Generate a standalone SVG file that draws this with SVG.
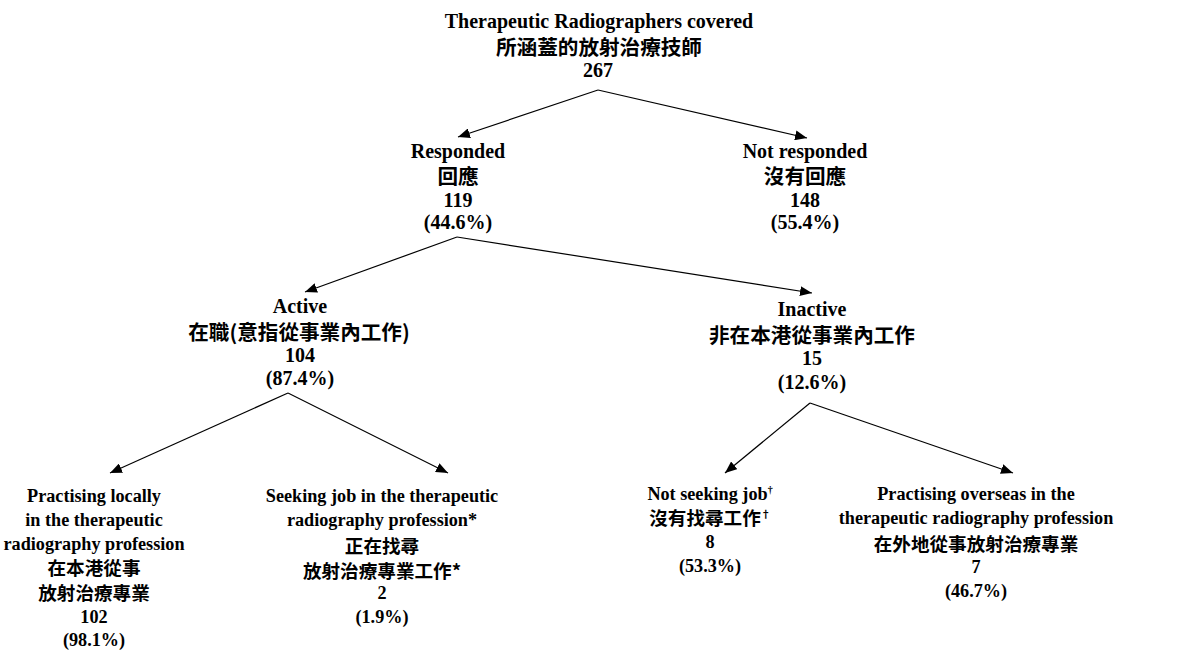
<svg xmlns="http://www.w3.org/2000/svg" width="1183" height="650" viewBox="0 0 1183 650">
<defs>
<style>
text{text-anchor:middle;fill:#000}
.en{font-family:"Liberation Serif","Times New Roman",serif;font-weight:bold;font-size:20px}
.zh{font-family:"Noto Sans CJK TC","Noto Sans CJK SC",sans-serif;font-size:20.6px;font-weight:700}
.en2{font-family:"Liberation Serif","Times New Roman",serif;font-weight:bold;font-size:18.2px}
.zh2{font-family:"Noto Sans CJK TC","Noto Sans CJK SC",sans-serif;font-size:18.6px;font-weight:700}
.sup{font-size:10px}
.conn line{stroke:#000;stroke-width:1.2;fill:none;marker-end:url(#arr)}
</style>
<marker id="arr" viewBox="0 0 12 10" refX="12" refY="5" markerWidth="12" markerHeight="10" markerUnits="userSpaceOnUse" orient="auto">
<path d="M0,0 L12,5 L0,10 z" fill="#000"/>
</marker>
</defs>
<rect width="1183" height="650" fill="#fff"/>
<g id="connectors" class="conn">
<line x1="598" y1="90" x2="458" y2="137"/>
<line x1="598" y1="90" x2="807" y2="138"/>
<line x1="457" y1="237" x2="305" y2="292"/>
<line x1="457" y1="237" x2="812" y2="293"/>
<line x1="288" y1="393" x2="110" y2="473"/>
<line x1="288" y1="393" x2="448" y2="473"/>
<line x1="810" y1="403" x2="725" y2="473"/>
<line x1="810" y1="403" x2="1013" y2="473"/>
</g>
<g id="node-total">
<text class="en" x="599" y="28">Therapeutic Radiographers covered</text>
<text class="zh" x="599" y="55">所涵蓋的放射治療技師</text>
<text class="en" x="598" y="77">267</text>
</g>
<g id="node-responded">
<text class="en" x="458" y="158">Responded</text>
<text class="zh" x="458" y="184">回應</text>
<text class="en" x="458" y="207">119</text>
<text class="en" x="458" y="229">(44.6%)</text>
</g>
<g id="node-not-responded">
<text class="en" x="805" y="158">Not responded</text>
<text class="zh" x="805" y="184">沒有回應</text>
<text class="en" x="805" y="207">148</text>
<text class="en" x="805" y="229">(55.4%)</text>
</g>
<g id="node-active">
<text class="en" x="300" y="313">Active</text>
<text class="zh" x="299" y="340">在職(意指從事業內工作)</text>
<text class="en" x="300" y="362">104</text>
<text class="en" x="300" y="385">(87.4%)</text>
</g>
<g id="node-inactive">
<text class="en" x="812" y="316">Inactive</text>
<text class="zh" x="812" y="343">非在本港從事業內工作</text>
<text class="en" x="812" y="365">15</text>
<text class="en" x="812" y="389">(12.6%)</text>
</g>
<g id="node-practising-locally">
<text class="en2" x="94" y="502">Practising locally</text>
<text class="en2" x="94" y="526">in the therapeutic</text>
<text class="en2" x="94" y="550">radiography profession</text>
<text class="zh2" x="94" y="575">在本港從事</text>
<text class="zh2" x="94" y="600">放射治療專業</text>
<text class="en2" x="94" y="623">102</text>
<text class="en2" x="94" y="646">(98.1%)</text>
</g>
<g id="node-seeking-job">
<text class="en2" x="382" y="502">Seeking job in the therapeutic</text>
<text class="en2" x="382" y="526">radiography profession*</text>
<text class="zh2" x="382" y="553">正在找尋</text>
<text class="zh2" x="382" y="578">放射治療專業工作*</text>
<text class="en2" x="382" y="599">2</text>
<text class="en2" x="382" y="623">(1.9%)</text>
</g>
<g id="node-not-seeking">
<text class="en2" x="710" y="500">Not seeking job<tspan class="sup" dy="-7">†</tspan></text>
<text class="zh2" x="710" y="525">沒有找尋工作<tspan class="sup" dy="-7">†</tspan></text>
<text class="en2" x="710" y="548">8</text>
<text class="en2" x="710" y="572">(53.3%)</text>
</g>
<g id="node-overseas">
<text class="en2" x="976" y="500">Practising overseas in the</text>
<text class="en2" x="976" y="524">therapeutic radiography profession</text>
<text class="zh2" x="976" y="551">在外地從事放射治療專業</text>
<text class="en2" x="976" y="573">7</text>
<text class="en2" x="976" y="597">(46.7%)</text>
</g>
</svg>
